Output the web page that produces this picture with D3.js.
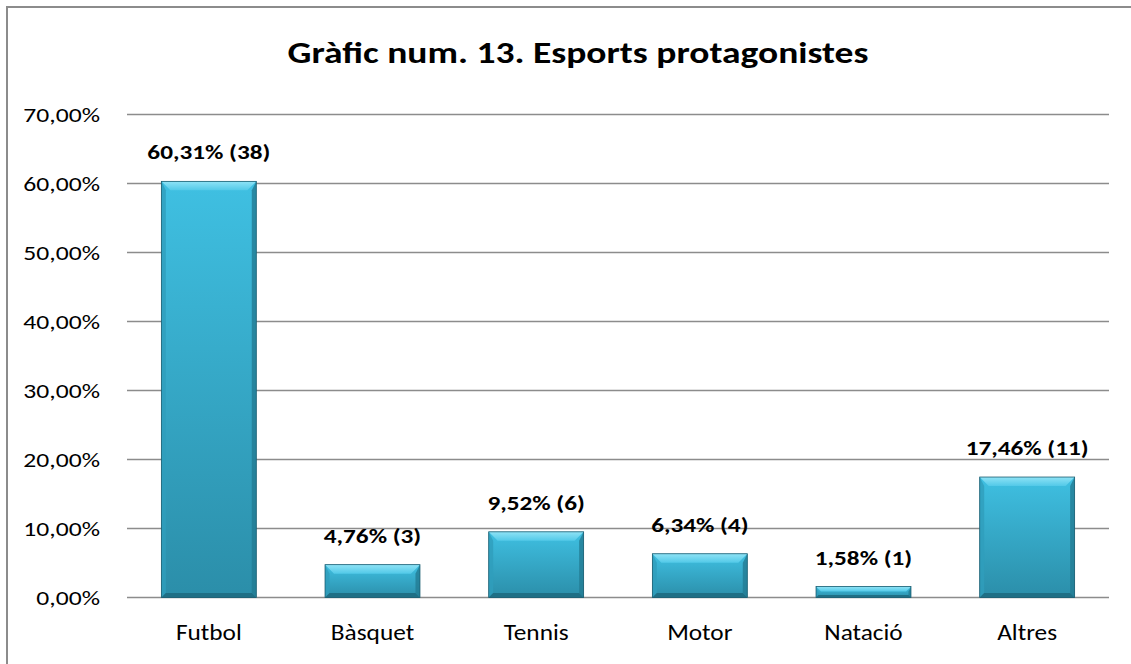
<!DOCTYPE html>
<html>
<head>
<meta charset="utf-8">
<title>Gràfic num. 13. Esports protagonistes</title>
<script src="https://cdn.jsdelivr.net/npm/d3@7/dist/d3.min.js"></script>
<style>
  body { margin: 0; background: #fff; }
  svg { display: block; }
  text { font-family: Carlito, Lato, "Liberation Sans", sans-serif; fill: #000; }
</style>
</head>
<body>
<script>
// dades
var categories = ['Futbol', 'Bàsquet', 'Tennis', 'Motor', 'Natació', 'Altres'];
var percents = [60.31, 4.76, 9.52, 6.34, 1.58, 17.46];
var counts = [38, 3, 6, 4, 1, 11];
var yTicks = [0, 10, 20, 30, 40, 50, 60, 70];

var W = 1131, H = 664;
var svg = d3.select('body').append('svg').attr('width', W).attr('height', H);

// estira el text en horitzontal (el gràfic original està una mica eixamplat)
function widen(sel, k) {
  sel.each(function () {
    var len = this.getComputedTextLength();
    d3.select(this).attr('textLength', len * k).attr('lengthAdjust', 'spacingAndGlyphs');
  });
}

// marc
svg.append('rect')
  .attr('x', 7).attr('y', 7).attr('width', W + 10).attr('height', H + 10)
  .attr('fill', 'none').attr('stroke', '#8c8c8c').attr('stroke-width', 2);

var x = d3.scaleBand().domain(categories).range([127, 1109]).paddingInner(0.42).paddingOuter(0.21);
var y = d3.scaleLinear().domain([0, 70]).range([597.5, 114.5]);

// títol
svg.append('text')
  .attr('x', 578).attr('y', 63)
  .attr('text-anchor', 'middle')
  .style('font-size', '30px').style('font-weight', 'bold')
  .text('Gràfic num. 13. Esports protagonistes')
  .call(widen, 1.25);

// graella
svg.selectAll('.grid').data(yTicks).enter().append('line')
  .attr('x1', 127).attr('x2', 1109)
  .attr('y1', d => y(d)).attr('y2', d => y(d))
  .attr('stroke', '#8c8c8c').attr('stroke-width', 1.5);

svg.selectAll('.ytick').data(yTicks).enter().append('text')
  .attr('x', 100).attr('y', d => y(d) + 7.5)
  .attr('text-anchor', 'end')
  .style('font-size', '21px')
  .text(d => d.toFixed(2).replace('.', ',') + '%')
  .call(widen, 1.22);

// gradients
var defs = svg.append('defs');
function grad(id, stops) {
  var g = defs.append('linearGradient').attr('id', id)
    .attr('x1', 0).attr('y1', 0).attr('x2', 0).attr('y2', 1);
  stops.forEach(s => g.append('stop').attr('offset', s[0]).attr('stop-color', s[1]));
}
grad('body', [[0, '#3fc0e2'], [1, '#2b8ea9']]);
grad('topb', [[0, '#8fe3f6'], [1, '#52c9e8']]);

var data = categories.map((c, i) => ({ cat: c, pct: percents[i], n: counts[i] }));

var bars = svg.selectAll('.bar').data(data).enter().append('g').attr('class', 'bar');

bars.each(function (d) {
  var g = d3.select(this);
  var x0 = x(d.cat), w = x.bandwidth(), y0 = y(d.pct), y1 = y(0), h = y1 - y0;
  var b = Math.min(9, h / 2.2);
  g.append('rect').attr('x', x0).attr('y', y0).attr('width', w).attr('height', h)
    .attr('fill', 'url(#body)');
  // bisell superior
  g.append('polygon')
    .attr('points', [[x0, y0], [x0 + w, y0], [x0 + w - b, y0 + b], [x0 + b, y0 + b]].join(' '))
    .attr('fill', 'url(#topb)');
  // laterals
  g.append('polygon')
    .attr('points', [[x0, y0], [x0 + b * 0.5, y0 + b], [x0 + b * 0.5, y1 - b * 0.5], [x0, y1]].join(' '))
    .attr('fill', '#2f9dbb').attr('opacity', 0.8);
  g.append('polygon')
    .attr('points', [[x0 + w, y0], [x0 + w - b * 0.5, y0 + b], [x0 + w - b * 0.5, y1 - b * 0.5], [x0 + w, y1]].join(' '))
    .attr('fill', '#237c93').attr('opacity', 0.8);
  // bisell inferior
  g.append('polygon')
    .attr('points', [[x0, y1], [x0 + b * 0.5, y1 - b * 0.5], [x0 + w - b * 0.5, y1 - b * 0.5], [x0 + w, y1]].join(' '))
    .attr('fill', '#1f6f85');
  g.append('rect').attr('x', x0).attr('y', y0).attr('width', w).attr('height', h)
    .attr('fill', 'none').attr('stroke', '#1b5d70').attr('stroke-width', 0.8);
});

// etiquetes de valor
svg.selectAll('.val').data(data).enter().append('text')
  .attr('x', d => x(d.cat) + x.bandwidth() / 2)
  .attr('y', d => y(d.pct) - 22)
  .attr('text-anchor', 'middle')
  .style('font-size', '21px').style('font-weight', 'bold')
  .text(d => d.pct.toFixed(2).replace('.', ',') + '% (' + d.n + ')')
  .call(widen, 1.2);

// categories
svg.selectAll('.cat').data(data).enter().append('text')
  .attr('x', d => x(d.cat) + x.bandwidth() / 2)
  .attr('y', 640)
  .attr('text-anchor', 'middle')
  .style('font-size', '22px')
  .text(d => d.cat)
  .call(widen, 1.15);
</script>
</body>
</html>
